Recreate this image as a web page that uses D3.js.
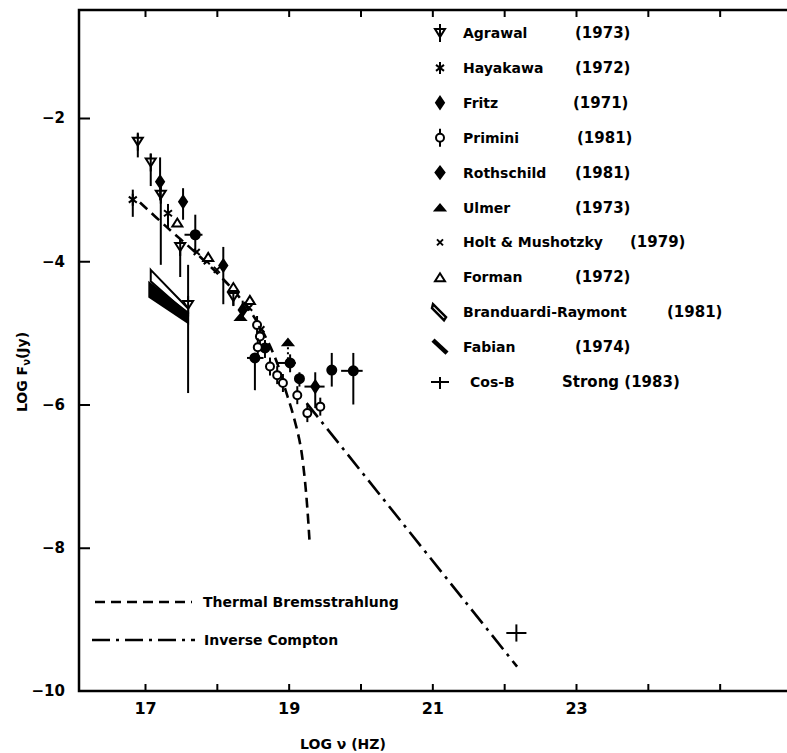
<!DOCTYPE html>
<html><head><meta charset="utf-8">
<script src="https://cdn.jsdelivr.net/npm/d3@7"></script>
<style>
body{margin:0;background:#fff;}
text{font-family:"DejaVu Sans",sans-serif;font-weight:bold;fill:#000;}
</style></head>
<body><svg id="c" width="787" height="753"></svg>
<script>
// ---------- data ----------
const xTicks = [17,18,19,20,21,22,23,24,25];
const xTickLabels = [17,19,21,23];
const yTicks = [-2,-4,-6,-8,-10];

// Agrawal (1973): open down-triangle, vertical bar [lo, hi]
const agrawal = [
  {x:16.90,y:-2.33,lo:-2.55,hi:-2.22},
  {x:17.08,y:-2.62,lo:-2.95,hi:-2.50},
  {x:17.22,y:-3.07,lo:-4.05,hi:-2.95},
  {x:17.49,y:-3.80,lo:-4.22,hi:-3.70},
  {x:17.60,y:-4.61,lo:-5.84,hi:-4.05},
  {x:18.23,y:-4.50,lo:-4.62,hi:-4.40}
];
// Hayakawa (1972): asterisk
const hayakawa = [
  {x:16.83,y:-3.14,lo:-3.38,hi:-3.00},
  {x:17.32,y:-3.33,lo:-3.55,hi:-3.20}
];
// Fritz (1971): filled diamond
const fritz = [
  {x:17.21,y:-2.89,lo:-3.15,hi:-2.55},
  {x:17.53,y:-3.17,lo:-3.42,hi:-2.98},
  {x:18.09,y:-4.06,lo:-4.60,hi:-3.80},
  {x:18.36,y:-4.68,lo:-4.80,hi:-4.55},
  {x:19.37,y:-5.75,lo:-6.05,hi:-5.55,xlo:19.22,xhi:19.50}
];
// Primini (1981): open circle
const primini = [
  {x:18.56,y:-4.89},{x:18.60,y:-5.05},{x:18.57,y:-5.20},{x:18.74,y:-5.47},
  {x:18.84,y:-5.59},{x:18.92,y:-5.70},{x:19.12,y:-5.87},{x:19.26,y:-6.12},{x:19.44,y:-6.03}
];
// Rothschild (1981): filled circle
const rothschild = [
  {x:17.70,y:-3.63,lo:-3.90,hi:-3.35,xlo:17.55,xhi:17.80},
  {x:18.53,y:-5.35,lo:-5.80,hi:-5.30,xlo:18.42,xhi:18.65},
  {x:18.67,y:-5.21,lo:-5.35,hi:-5.10},
  {x:19.02,y:-5.42,lo:-5.55,hi:-5.30,xlo:18.85,xhi:19.10},
  {x:19.15,y:-5.64,lo:-5.75,hi:-5.55},
  {x:19.60,y:-5.52,lo:-5.75,hi:-5.28},
  {x:19.90,y:-5.53,lo:-6.00,hi:-5.28,xlo:19.73,xhi:20.03}
];
// Ulmer (1973): filled up-triangle
const ulmer = [{x:18.33,y:-4.78,lo:-4.78},{x:18.99,y:-5.13,lo:-5.38}];
// Holt & Mushotzky (1979): x
const holt = [{x:17.72,y:-3.87},{x:17.86,y:-4.00},{x:18.00,y:-4.12},{x:18.45,y:-4.65},{x:18.62,y:-4.95}];
// Forman (1972): open up-triangle
const forman = [{x:17.45,y:-3.46},{x:17.88,y:-3.94},{x:18.23,y:-4.36},{x:18.46,y:-4.54}];
// Branduardi-Raymont (1981): open wedge
const branduardi = [[17.08,-4.12],[17.60,-4.66],[17.60,-4.74],[17.08,-4.28]];
// Fabian (1974): filled wedge
const fabian = [[17.06,-4.30],[17.60,-4.72],[17.60,-4.86],[17.06,-4.50]];
// Cos-B, Strong (1983)
const cosb = [{x:22.17,y:-9.19,lo:-9.31,hi:-9.07,xlo:22.03,xhi:22.31}];
// model curves
const thermal = [[16.93,-3.18],[17.30,-3.52],[17.77,-3.94],[18.20,-4.37],[18.50,-4.75],[18.70,-5.10],
  [18.85,-5.45],[18.95,-5.78],[19.05,-6.10],[19.16,-6.55],[19.22,-7.00],[19.26,-7.45],[19.29,-7.90]];
const compton = [[19.25,-5.98],[22.18,-9.66]];

const legendNames = ["Agrawal","Hayakawa","Fritz","Primini","Rothschild","Ulmer","Holt & Mushotzky","Forman","Branduardi-Raymont","Fabian","Cos-B"];
const legendYears = ["(1973)","(1972)","(1971)","(1981)","(1981)","(1973)","(1979)","(1972)","(1981)","(1974)","Strong (1983)"];

// ---------- drawing ----------
const svg = d3.select("#c");
const x = d3.scaleLinear().domain([17,23]).range([145,576]);
const y = d3.scaleLinear().domain([-10,-2]).range([691,118]);
const xMin = x.invert(79), xMax = x.invert(787), yMax = y.invert(10);

// frame
const frame = svg.append("g").attr("stroke","#000").attr("stroke-width",2.5).attr("fill","none");
frame.append("path").attr("d",`M${x(xMax)},${y(yMax)}H${x(xMin)}V${y(-10)}H${x(xMax)}`);

const gB = svg.append("g").attr("transform",`translate(0,${y(-10)})`)
  .call(d3.axisBottom(x).tickValues(xTicks).tickSize(-7).tickPadding(12)
     .tickFormat(d=>xTickLabels.includes(d)?d:""));
const gT = svg.append("g").attr("transform",`translate(0,${y(yMax)})`)
  .call(d3.axisTop(x).tickValues(xTicks).tickSize(-7).tickFormat(""));
const gL = svg.append("g").attr("transform",`translate(${x(xMin)},0)`)
  .call(d3.axisLeft(y).tickValues(yTicks).tickSize(-11).tickPadding(14)
     .tickFormat(d=>"\u2212"+Math.abs(d)));
[gB,gT,gL].forEach(g=>{g.select(".domain").remove();
  g.selectAll(".tick line").attr("stroke","#000").attr("stroke-width",2);
  g.selectAll("text").attr("font-size",16);});
gL.selectAll(".tick").filter(d=>d===-10).select("line").remove();
gL.selectAll("text").attr("font-size",15);

svg.append("text").attr("x",343).attr("y",749).attr("text-anchor","middle").attr("font-size",14)
  .text("LOG \u03BD (HZ)");
svg.append("text").attr("transform",`translate(27,372) rotate(-90)`).attr("text-anchor","middle").attr("font-size",14)
  .html('LOG F<tspan font-size="10" dy="3">\u03BD</tspan><tspan dy="-3">(Jy)</tspan>');

// curves
svg.append("path").datum(thermal).attr("d",d3.line().x(d=>x(d[0])).y(d=>y(d[1])).curve(d3.curveCatmullRom))
  .attr("fill","none").attr("stroke","#000").attr("stroke-width",2.6).attr("stroke-dasharray","10,6");
svg.append("path").datum(compton).attr("d",d3.line().x(d=>x(d[0])).y(d=>y(d[1]))).attr("fill","none").attr("stroke","#000")
  .attr("stroke-width",2.6).attr("stroke-dasharray","18,6,3,6");

const g = svg.append("g").attr("stroke","#000").attr("stroke-width",2);
function vbar(d){ if(d.lo!==undefined) g.append("line").attr("x1",x(d.x)).attr("x2",x(d.x)).attr("y1",y(d.lo)).attr("y2",y(d.hi!==undefined?d.hi:d.y)); }
function hbar(d){ if(d.xlo!==undefined) g.append("line").attr("y1",y(d.y)).attr("y2",y(d.y)).attr("x1",x(d.xlo)).attr("x2",x(d.xhi)); }

// symbol drawers (cx, cy in px)
const sym = {
  agrawal:(p,cx,cy)=>{p.append("path").attr("d",`M${cx-5},${cy-4}H${cx+5}L${cx},${cy+4}Z`).attr("fill","#fff");
    p.append("line").attr("x1",cx).attr("x2",cx).attr("y1",cy-9).attr("y2",cy+9);},
  hayakawa:(p,cx,cy)=>{p.append("path").attr("d",`M${cx},${cy-6}V${cy+6}M${cx-4},${cy-3}L${cx+4},${cy+3}M${cx-4},${cy+3}L${cx+4},${cy-3}`);},
  fritz:(p,cx,cy)=>{p.append("path").attr("d",`M${cx},${cy-6}L${cx+4},${cy}L${cx},${cy+6}L${cx-4},${cy}Z`).attr("fill","#000");},
  primini:(p,cx,cy)=>{p.append("line").attr("x1",cx).attr("x2",cx).attr("y1",cy-9).attr("y2",cy+9);
    p.append("circle").attr("cx",cx).attr("cy",cy).attr("r",4).attr("fill","#fff");},
  rothschild:(p,cx,cy)=>{p.append("path").attr("d",`M${cx},${cy-6}L${cx+4.5},${cy}L${cx},${cy+6}L${cx-4.5},${cy}Z`).attr("fill","#000");},
  ulmer:(p,cx,cy)=>{p.append("path").attr("d",`M${cx-5},${cy+3}H${cx+5}L${cx},${cy-3}Z`).attr("fill","#000");},
  holt:(p,cx,cy)=>{p.append("path").attr("d",`M${cx-3},${cy-3}L${cx+3},${cy+3}M${cx-3},${cy+3}L${cx+3},${cy-3}`);},
  forman:(p,cx,cy)=>{p.append("path").attr("d",`M${cx-5},${cy+4}H${cx+5}L${cx},${cy-4}Z`).attr("fill","#fff");},
  branduardi:(p,cx,cy)=>{p.append("path").attr("d",`M${cx-7},${cy-8}L${cx+6},${cy+5}L${cx+4},${cy+8}L${cx-8},${cy-4}Z`).attr("fill","#fff").attr("stroke-width",2.5);},
  fabian:(p,cx,cy)=>{p.append("path").attr("d",`M${cx-7},${cy-7}L${cx+7},${cy+6}`).attr("stroke-width",4.5);},
  cosb:(p,cx,cy)=>{p.append("path").attr("d",`M${cx-9},${cy}H${cx+9}M${cx},${cy-5}V${cy+7}`);}
};

// plot points
agrawal.forEach(d=>{vbar(d); sym.agrawal(g,x(d.x),y(d.y));});
hayakawa.forEach(d=>{vbar(d); sym.hayakawa(g,x(d.x),y(d.y));});
fritz.forEach(d=>{vbar(d); hbar(d); sym.fritz(g,x(d.x),y(d.y));});
rothschild.forEach(d=>{vbar(d); hbar(d); g.append("circle").attr("cx",x(d.x)).attr("cy",y(d.y)).attr("r",4.5).attr("fill","#000");});
primini.forEach(d=>{sym.primini(g,x(d.x),y(d.y));});
ulmer.forEach(d=>{ g.append("line").attr("x1",x(d.x)).attr("x2",x(d.x)).attr("y1",y(d.y)).attr("y2",y(d.lo)).attr("stroke-dasharray","2,3"); sym.ulmer(g,x(d.x),y(d.y));});
holt.forEach(d=>sym.holt(g,x(d.x),y(d.y)));
forman.forEach(d=>sym.forman(g,x(d.x),y(d.y)));
const poly = d3.line().x(d=>x(d[0])).y(d=>y(d[1]));
g.append("path").attr("d",poly(branduardi)+"Z").attr("fill","#fff");
g.append("path").attr("d",poly(fabian)+"Z").attr("fill","#000");
cosb.forEach(d=>{vbar(d); hbar(d);});

// legend
const keys = ["agrawal","hayakawa","fritz","primini","rothschild","ulmer","holt","forman","branduardi","fabian","cosb"];
const yearX = [575,575,573,577,575,575,630,575,667,575,562];
const lg = svg.append("g");
keys.forEach((k,i)=>{
  const cy = 33 + i*34.9;
  const sg = lg.append("g").attr("stroke","#000").attr("stroke-width",2);
  sym[k](sg,440,cy);
  lg.append("text").attr("x",k==="cosb"?470:463).attr("y",cy+5).attr("font-size",14).text(legendNames[i]);
  lg.append("text").attr("x",yearX[i]).attr("y",cy+5).attr("font-size",15).text(legendYears[i]);
});

// model legend
const ml = svg.append("g");
ml.append("line").attr("x1",95).attr("x2",192).attr("y1",602).attr("y2",602).attr("stroke","#000").attr("stroke-width",2.6).attr("stroke-dasharray","10,6");
ml.append("line").attr("x1",92).attr("x2",195).attr("y1",640).attr("y2",640).attr("stroke","#000").attr("stroke-width",2.6).attr("stroke-dasharray","18,6,3,6");
ml.append("text").attr("x",203).attr("y",607).attr("font-size",14).text("Thermal Bremsstrahlung");
ml.append("text").attr("x",204).attr("y",645).attr("font-size",14).text("Inverse Compton");
</script></body></html>
